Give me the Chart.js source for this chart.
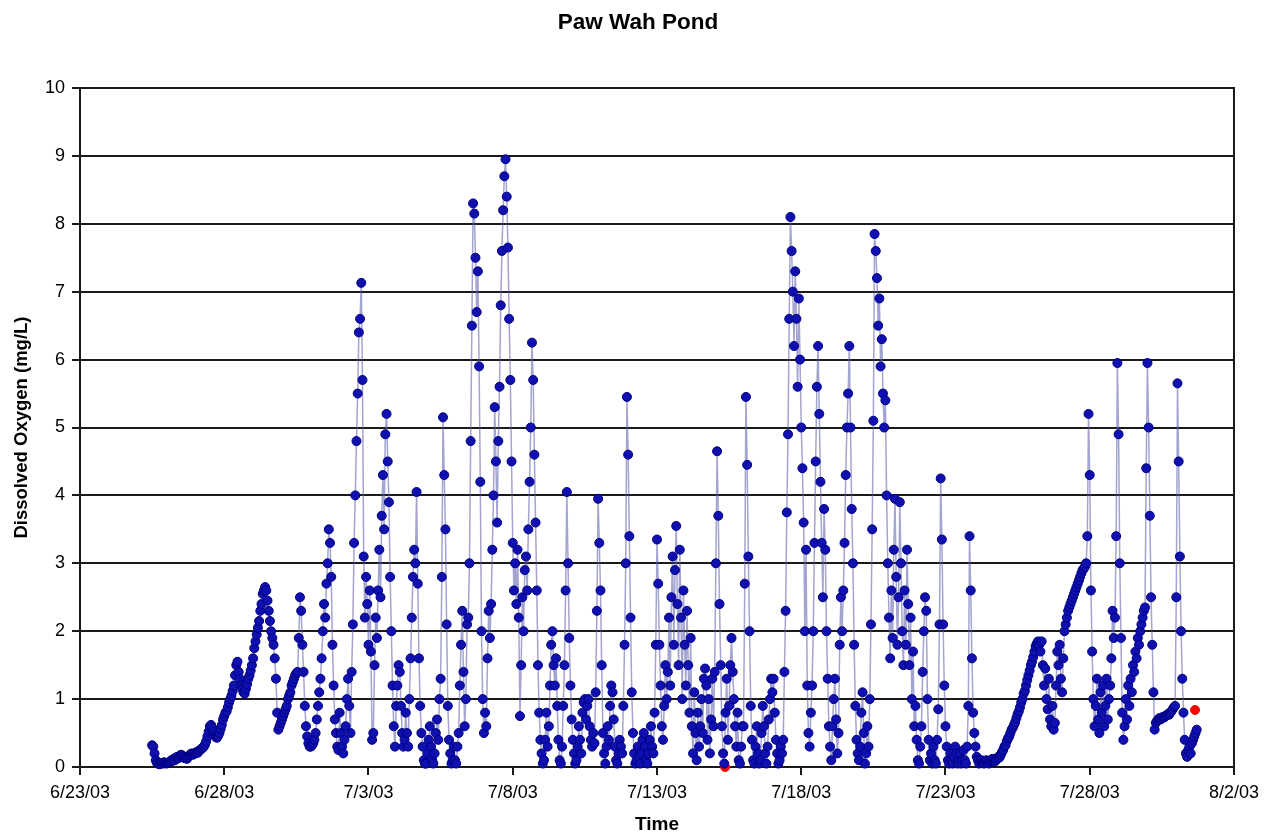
<!DOCTYPE html>
<html><head><meta charset="utf-8">
<script src="https://cdn.jsdelivr.net/npm/chart.js@4.4.1/dist/chart.umd.min.js"></script>
<style>html,body{margin:0;padding:0;background:#fff}</style>
</head><body>
<canvas id="c" width="1266" height="836"></canvas>
<script>
const titleText = 'Paw Wah Pond';
const yTitle = 'Dissolved Oxygen (mg/L)';
const xTitle = 'Time';
const tickLabels = ['6/23/03','6/28/03','7/3/03','7/8/03','7/13/03','7/18/03','7/23/03','7/28/03','8/2/03'];
const startDay = 2.5;          // days after 6/23/03 00:00 (6/25 12:00)
const stepDays = 1 / 24;       // hourly readings
const doValues = [
  // 6/25 (from 12:00)
  0.32,0.3,0.2,0.1,0.06,0.05,0.04,0.05,0.06,0.05,0.07,0.06,
  // 6/26
  0.05,0.06,0.07,0.08,0.1,0.09,0.12,0.1,0.14,0.15,0.13,0.16,0.18,0.17,0.15,0.13,0.14,0.12,0.15,0.17,0.19,0.2,0.18,0.2,
  // 6/27
  0.2,0.22,0.21,0.24,0.25,0.27,0.28,0.3,0.33,0.38,0.45,0.52,0.6,0.62,0.58,0.52,0.47,0.44,0.43,0.46,0.5,0.56,0.62,0.7,
  // 6/28
  0.75,0.8,0.82,0.88,0.95,1.0,1.05,1.12,1.2,1.35,1.5,1.55,1.4,1.3,1.2,1.15,1.1,1.08,1.15,1.22,1.3,1.35,1.42,1.5,
  // 6/29
  1.6,1.75,1.85,1.95,2.05,2.15,2.3,2.4,2.55,2.6,2.65,2.6,2.45,2.3,2.15,2.0,1.9,1.8,1.6,1.3,0.8,0.55,0.6,0.65,
  // 6/30
  0.7,0.75,0.8,0.85,0.9,1.0,1.05,1.1,1.2,1.25,1.3,1.35,1.38,1.4,1.9,2.5,2.3,1.8,1.4,0.9,0.6,0.45,0.35,0.3,
  // 7/1
  0.3,0.32,0.35,0.4,0.5,0.7,0.9,1.1,1.3,1.6,2.0,2.4,2.2,2.7,3.0,3.5,3.3,2.8,1.8,1.2,0.7,0.5,0.3,0.25,
  // 7/2
  0.8,0.5,0.3,0.2,0.4,0.6,1.0,1.3,0.9,0.5,1.4,2.1,3.3,4.0,4.8,5.5,6.4,6.6,7.13,5.7,3.1,2.2,2.8,2.4,
  // 7/3
  1.8,2.6,1.7,0.4,0.5,1.5,2.2,1.9,2.6,3.2,2.5,3.7,4.3,3.5,4.9,5.2,4.5,3.9,2.8,2.0,1.2,0.6,0.3,0.9,
  // 7/4
  1.2,1.5,1.4,0.9,0.5,0.3,0.4,0.8,0.5,0.3,1.0,1.6,2.2,2.8,3.2,3.0,4.05,2.7,1.6,0.9,0.5,0.3,0.1,0.05,
  // 7/5
  0.05,0.2,0.4,0.6,0.3,0.1,0.05,0.2,0.5,0.7,0.4,1.0,1.3,2.8,5.15,4.3,3.5,2.1,0.9,0.4,0.2,0.05,0.1,0.3,
  // 7/6
  0.1,0.05,0.3,0.5,1.2,1.8,2.3,1.4,0.6,1.0,2.1,2.2,3.0,4.8,6.5,8.3,8.15,7.5,6.7,7.3,5.9,4.2,2.0,1.0,
  // 7/7
  0.5,0.8,0.6,1.6,2.3,1.9,2.4,3.2,4.0,5.3,4.5,3.6,4.8,5.6,6.8,7.6,8.2,8.7,8.95,8.4,7.65,6.6,5.7,4.5,
  // 7/8
  3.3,2.6,3.0,2.4,3.2,2.2,0.75,1.5,2.5,2.0,2.9,3.1,2.6,3.5,4.2,5.0,6.25,5.7,4.6,3.6,2.6,1.5,0.8,0.4,
  // 7/9
  0.2,0.05,0.1,0.4,0.8,0.3,0.6,1.2,1.8,2.0,1.5,1.2,1.6,0.9,0.4,0.1,0.05,0.3,0.9,1.5,2.6,4.05,3.0,1.9,
  // 7/10
  1.2,0.7,0.4,0.2,0.05,0.1,0.3,0.6,0.4,0.2,0.8,0.95,1.0,0.7,0.9,1.0,0.6,0.4,0.3,0.5,0.35,1.1,2.3,3.95,
  // 7/11
  3.3,2.6,1.5,0.5,0.2,0.05,0.3,0.6,0.4,0.9,1.2,1.1,0.7,0.3,0.1,0.05,0.2,0.4,0.3,0.2,0.9,1.8,3.0,5.45,
  // 7/12
  4.6,3.4,2.2,1.1,0.5,0.2,0.05,0.1,0.3,0.15,0.05,0.2,0.4,0.5,0.3,0.1,0.05,0.2,0.4,0.6,0.3,0.2,0.8,1.8,
  // 7/13
  3.35,2.7,1.8,1.2,0.6,0.4,0.9,1.5,1.0,1.4,2.2,1.2,2.5,3.1,1.8,2.9,3.55,2.4,1.5,3.2,2.2,1.0,2.6,1.8,
  // 7/14
  1.2,2.3,1.5,0.8,1.9,0.6,0.2,1.1,0.5,0.1,0.8,0.3,0.6,1.0,0.5,1.3,1.45,1.2,0.4,1.0,0.2,0.7,1.3,0.6,
  // 7/15
  1.4,3.0,4.65,3.7,2.4,1.5,0.6,0.2,0.05,0.8,1.3,0.4,0.9,1.5,1.9,1.4,1.0,0.6,0.3,0.8,0.1,0.05,0.3,0.6,
  // 7/16
  0.6,2.7,5.45,4.45,3.1,2.0,0.9,0.4,0.1,0.05,0.3,0.6,0.2,0.05,0.1,0.5,0.9,0.6,0.2,0.05,0.3,0.7,1.0,1.3,
  // 7/17
  1.1,1.3,0.8,0.4,0.2,0.05,0.1,0.3,0.2,0.4,1.4,2.3,3.75,4.9,6.6,8.1,7.6,7.0,6.2,7.3,6.6,5.6,6.9,6.0,
  // 7/18
  5.0,4.4,3.6,2.0,3.2,1.2,0.5,0.3,0.8,1.2,2.0,3.3,4.5,5.6,6.2,5.2,4.2,3.3,2.5,3.8,3.2,2.0,1.3,0.6,
  // 7/19
  0.3,0.1,0.6,1.0,1.3,0.7,0.2,0.5,1.8,2.5,2.0,2.6,3.3,4.3,5.0,5.5,6.2,5.0,3.8,3.0,1.8,0.9,0.4,0.2,
  // 7/20
  0.1,0.3,0.8,1.1,0.5,0.05,0.2,0.6,0.3,1.0,2.1,3.5,5.1,7.85,7.6,7.2,6.5,6.9,5.9,6.3,5.5,5.0,5.4,4.0,
  // 7/21
  3.0,2.2,1.6,2.6,1.9,3.2,3.95,2.8,1.8,2.5,3.9,3.0,2.0,1.5,2.6,1.8,3.2,2.4,1.5,2.2,1.0,1.7,0.6,0.9,
  // 7/22
  0.4,0.1,0.05,0.3,0.6,1.4,2.0,2.5,2.3,1.0,0.4,0.1,0.2,0.05,0.3,0.1,0.05,0.4,0.85,2.1,4.25,3.35,2.1,1.2,
  // 7/23
  0.6,0.3,0.1,0.05,0.2,0.1,0.05,0.15,0.3,0.2,0.05,0.1,0.2,0.05,0.1,0.25,0.1,0.05,0.3,0.9,3.4,2.6,1.6,0.8,
  // 7/24
  0.5,0.3,0.15,0.1,0.05,0.08,0.1,0.06,0.05,0.08,0.1,0.07,0.05,0.08,0.1,0.12,0.1,0.08,0.1,0.12,0.15,0.14,0.18,0.22,
  // 7/25
  0.25,0.3,0.32,0.38,0.42,0.45,0.5,0.55,0.58,0.62,0.66,0.72,0.78,0.82,0.88,0.95,1.0,1.08,1.12,1.2,1.28,1.35,1.42,1.5,
  // 7/26
  1.55,1.62,1.7,1.78,1.82,1.85,1.8,1.7,1.85,1.5,1.2,1.45,1.0,0.85,1.3,0.7,0.6,0.9,0.55,0.65,1.2,1.7,1.5,1.8,
  // 7/27
  1.3,1.1,1.6,2.0,2.1,2.2,2.3,2.35,2.4,2.45,2.5,2.55,2.6,2.65,2.7,2.75,2.8,2.85,2.9,2.92,2.95,3.0,3.4,5.2,
  // 7/28
  4.3,2.6,1.7,1.0,0.6,0.9,1.3,0.7,0.5,1.1,0.8,1.2,0.6,0.9,1.3,0.7,1.0,1.2,1.6,2.3,1.9,2.2,3.4,5.95,
  // 7/29
  4.9,3.0,1.9,0.8,0.4,0.6,1.0,0.7,1.2,0.9,1.3,1.1,1.5,1.4,1.7,1.6,1.9,1.8,2.0,2.1,2.2,2.3,2.35,4.4,
  // 7/30
  5.95,5.0,3.7,2.5,1.8,1.1,0.55,0.65,0.68,0.7,0.72,0.7,0.72,0.74,0.73,0.75,0.76,0.78,0.77,0.8,0.82,0.85,0.88,0.9,
  // 7/31 (to 17:00)
  2.5,5.65,4.5,3.1,2.0,1.3,0.8,0.4,0.2,0.15,0.25,0.3,0.2,0.35,0.4,0.45,0.5,0.55
];
const flagDays = [22.36, 38.65];
const flagValues = [0, 0.84];

const series = doValues.map((v, i) => ({ x: startDay + i * stepDays, y: v }));
const flags = flagDays.map((d, i) => ({ x: d, y: flagValues[i] }));

const framePlugin = {
  id: 'frame',
  beforeDatasetsDraw(chart) {
    const a = chart.chartArea, ctx = chart.ctx;
    ctx.save();
    ctx.strokeStyle = '#1a1a1a';
    ctx.lineWidth = 2;
    ctx.strokeRect(a.left, a.top, a.right - a.left, a.bottom - a.top);
    ctx.restore();
  },
  afterDraw(chart) {
    const ctx = chart.ctx;
    ctx.save();
    ctx.fillStyle = '#000';
    ctx.font = 'bold 22.5px "Liberation Sans", Arial, sans-serif';
    ctx.textAlign = 'center';
    ctx.textBaseline = 'middle';
    ctx.fillText(titleText, 638, 23);
    ctx.restore();
  }
};

Chart.defaults.font.family = '"Liberation Sans", Arial, sans-serif';
Chart.defaults.color = '#000';

new Chart(document.getElementById('c'), {
  type: 'scatter',
  data: {
    datasets: [
      {
        label: 'Dissolved Oxygen',
        data: series,
        showLine: true,
        borderColor: 'rgba(90,90,170,0.55)',
        borderWidth: 1.5,
        pointRadius: 4.5,
        pointBackgroundColor: '#1010b0',
        pointBorderColor: '#000080',
        pointBorderWidth: 1,
        tension: 0,
        clip: false
      },
      {
        label: 'Flagged',
        data: flags,
        showLine: false,
        pointRadius: 4.5,
        pointBackgroundColor: '#ff0000',
        pointBorderColor: '#ff0000',
        pointBorderWidth: 1,
        clip: false
      }
    ]
  },
  options: {
    responsive: false,
    animation: false,
    devicePixelRatio: 1,
    layout: { padding: { left: 0, right: 32, top: 88, bottom: 0 } },
    plugins: {
      legend: { display: false },
      tooltip: { enabled: false },
      title: { display: false, text: titleText }
    },
    scales: {
      x: {
        type: 'linear',
        min: 0, max: 40,
        afterFit: s => { s.height = 69; },
        ticks: {
          stepSize: 5, autoSkip: false, maxRotation: 0, padding: 7,
          font: { size: 18 }, color: '#000',
          callback: v => tickLabels[Math.round(v / 5)]
        },
        grid: { drawOnChartArea: false, drawTicks: true, tickLength: 8, color: '#1a1a1a', lineWidth: 2 },
        border: { display: true, color: '#1a1a1a', width: 2 },
        title: { display: true, text: xTitle, color: '#000', font: { size: 19, weight: 'bold' }, padding: { top: 0, bottom: 0 } }
      },
      y: {
        min: 0, max: 10,
        afterFit: s => { s.width = 80; },
        ticks: { stepSize: 1, padding: 7, font: { size: 18 }, color: '#000' },
        grid: { color: '#1a1a1a', lineWidth: 2, tickLength: 8 },
        border: { display: true, color: '#1a1a1a', width: 2 },
        title: { display: true, text: yTitle, color: '#000', font: { size: 18.5, weight: 'bold' }, padding: { top: 11, bottom: 0 } }
      }
    }
  },
  plugins: [framePlugin]
});
</script>
</body></html>
